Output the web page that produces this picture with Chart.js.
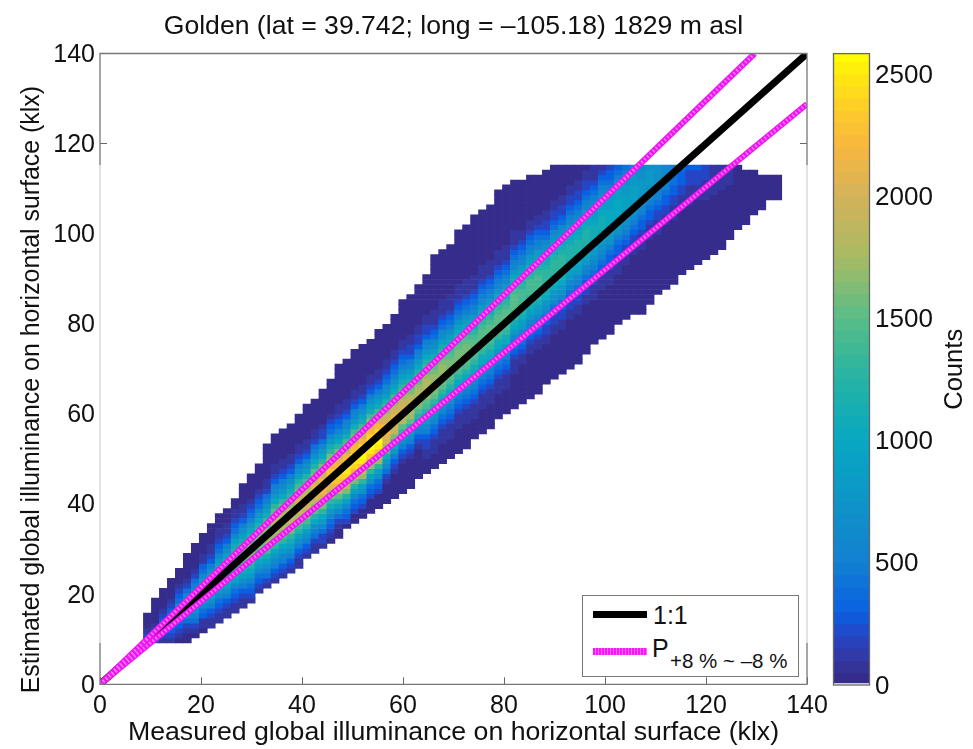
<!DOCTYPE html>
<html>
<head>
<meta charset="utf-8">
<title>Golden illuminance density</title>
<script src="https://cdn.jsdelivr.net/npm/chart.js@4"></script>
<style>
  html, body { margin: 0; background: #fff; }
  body { width: 973px; height: 749px; position: relative; overflow: hidden; font-family: "Liberation Sans", Arial, sans-serif; color: #111; }
  canvas { position: absolute; top: 0; }
  #main { left: 0; }
  #bar { left: 820px; }
  #legend { position: absolute; left: 582px; top: 595px; width: 215px; height: 80px; background: #fff; border: 1px solid #777; }
  #legend .swatch { position: absolute; left: 10px; width: 54px; height: 7px; }
  #legend .black { top: 15px; background: #000; }
  #legend .pink { top: 52px; background: repeating-linear-gradient(90deg, #ff10ff 0 2px, #ff70ff 2px 3px); }
  #legend .txt { position: absolute; font-size: 25px; line-height: 28px; white-space: nowrap; }
  #legend sub { position: absolute; left: 18px; top: 13px; font-size: 20.5px; vertical-align: baseline; }
</style>
</head>
<body>
<canvas id="main" width="904" height="749"></canvas>
<canvas id="bar" width="153" height="749"></canvas>
<div id="legend">
  <div class="swatch black"></div>
  <div class="txt" style="left:70px;top:5px">1:1</div>
  <div class="swatch pink"></div>
  <div class="txt" style="left:69px;top:38px">P<sub>+8&nbsp;%&nbsp;~&nbsp;–8&nbsp;%</sub></div>
</div>
<script>
const axisTicks = [0, 20, 40, 60, 80, 100, 120, 140];
const colorbarTicks = [0, 500, 1000, 1500, 2000, 2500];
const colorbarEdges = [8, 50, 100, 150, 200, 250, 300, 350, 400, 450, 500, 550, 600, 650, 700, 750, 800, 850, 900, 950, 1000, 1050, 1100, 1150, 1200, 1250, 1300, 1350, 1400, 1450, 1500, 1550, 1600, 1650, 1700, 1750, 1800, 1850, 1900, 1950, 2000, 2050, 2100, 2150, 2200, 2250, 2300, 2350, 2400, 2450, 2500, 2550, 2583];

const oneToOneX = [0, 140];
const oneToOneY = [0, 140];
const plusEightX = [0, 129.63];
const plusEightY = [0, 140];
const minusEightX = [0, 140];
const minusEightY = [0, 128.8];

// histogram bins in klx
const binLeft = 8.6;
const binWidth = 1.58;
const binBottom = 9.17;
const binHeight = 1.105;

// per column: first and last+1 filled row
const colLow = [0,0,0,0,0,0,1,2,3,4,5,6,7,8,10,11,12,13,14,15,17,18,19,20,21,23,24,25,26,27,28,29,30,31,33,34,35,36,37,38,39,41,42,43,45,46,47,48,49,50,52,53,54,55,56,58,60,61,62,64,65,66,66,68,70,71,72,74,75,76,77,78,79,81,83,84,86,87,89,89];
const colHigh = [6,9,11,13,15,18,20,22,24,26,27,29,32,34,36,40,42,43,44,46,48,49,51,53,56,57,59,60,61,63,64,66,69,70,72,74,78,79,80,83,84,86,87,88,91,92,93,93,94,94,95,96,96,96,96,96,96,96,96,96,96,96,96,96,96,96,96,96,96,96,96,96,96,96,96,95,95,94,94,94];
// row where the values in colCounts start; every other filled cell is edgeCount
const colFrom = [0,0,0,0,1,2,2,3,3,4,5,6,7,8,10,10,11,12,13,15,16,18,19,21,23,24,26,27,29,30,32,34,36,37,39,37,38,40,41,43,44,45,47,48,50,51,54,56,58,59,60,62,63,65,66,68,69,71,72,74,76,78,79,81,82,84,85,87,88,89,89,90,91,92,92,0,0,0,0,0];
const edgeCount = 30;
const colCounts = [
  [2,2,1],
  [2,3,2,1],
  [1,2,3,4,3,2,1],
  [1,2,3,4,5,4,3,2,1],
  [1,2,3,4,6,6,6,4,3,2,1],
  [1,2,4,6,7,8,7,6,4,2,1],
  [1,2,4,5,7,9,9,9,7,5,4,2,1],
  [1,1,3,4,6,8,10,10,10,8,6,4,3,1,1],
  [1,1,2,3,5,7,9,11,11,11,9,7,5,3,2,1,1],
  [1,1,2,3,4,6,8,10,12,12,12,10,8,6,4,3,2,1,1],
  [1,1,2,3,5,7,9,11,12,13,12,11,9,7,5,3,2,1,1],
  [1,1,2,3,4,6,9,11,12,14,14,14,12,11,9,6,4,3,2,1,1],
  [1,1,2,3,5,7,9,11,13,15,15,15,13,11,9,7,5,3,2,1,1],
  [1,2,3,4,6,8,10,12,14,16,16,16,14,12,10,8,6,4,3,2,1],
  [1,2,3,4,6,8,10,12,14,16,16,16,14,12,10,8,6,4,3,2,1],
  [1,1,2,4,5,7,9,11,14,15,17,17,17,15,14,11,9,7,5,4,2,1,1],
  [1,1,2,3,5,6,8,10,13,15,17,18,18,18,17,15,13,10,8,6,5,3,2,1,1],
  [1,1,2,3,5,6,8,10,13,15,17,18,18,18,17,15,13,10,8,6,5,3,2,1,1],
  [1,1,2,3,5,7,9,11,13,16,17,19,19,19,17,16,13,11,9,7,5,3,2,1,1],
  [1,1,2,3,5,7,9,12,14,16,18,20,20,20,18,16,14,12,9,7,5,3,2,1,1],
  [1,1,2,3,5,7,9,12,14,16,18,20,20,20,18,16,14,12,9,7,5,3,2,1,1],
  [1,1,2,4,5,7,10,12,15,17,19,21,21,21,19,17,15,12,10,7,5,4,2,1,1],
  [1,2,2,4,6,8,10,13,16,18,20,22,22,22,20,18,16,13,10,8,6,4,2,2,1],
  [1,2,3,4,6,8,11,13,16,19,21,23,23,23,21,19,16,13,11,8,6,4,3,2,1],
  [1,2,4,6,9,12,15,18,21,23,24,24,22,21,18,16,13,10,8,6,4,3,2,1,1],
  [2,3,4,6,9,12,16,19,22,24,25,25,23,22,19,16,14,11,8,6,5,3,2,1,1],
  [2,3,4,6,9,12,16,19,22,24,25,25,23,22,19,16,14,11,8,6,5,3,2,1,1],
  [2,3,4,7,9,13,17,20,23,25,26,25,24,22,20,17,14,11,9,7,5,3,2,1,1],
  [2,3,4,7,9,13,17,20,23,25,26,25,24,22,20,17,14,11,9,7,5,3,2,1,1],
  [2,3,4,7,9,13,17,20,23,25,26,25,24,22,20,17,14,11,9,7,5,3,2,1,1],
  [1,2,4,6,8,11,14,17,20,21,22,22,20,19,17,14,12,9,7,6,4,3,2,1,1],
  [1,2,3,5,8,10,13,16,19,20,21,21,20,18,16,14,11,9,7,5,4,3,2,1,1],
  [1,2,3,5,7,10,13,15,18,19,20,20,19,17,15,13,11,9,7,5,4,3,2,1,1],
  [1,2,3,5,7,9,12,15,17,18,19,19,18,16,14,12,10,8,6,5,3,2,2,1,1],
  [1,2,3,5,6,9,12,14,16,17,18,18,17,15,14,12,10,8,6,5,3,2,2,1,1],
  [1,1,2,2,3,5,6,8,10,12,14,15,17,18,18,18,17,15,14,12,10,8,6,5,3,2,2,1,1],
  [1,1,1,2,3,4,6,7,9,11,13,15,16,17,17,17,16,15,13,11,9,7,6,4,3,2,1,1,1],
  [1,1,1,2,3,4,6,7,9,11,13,15,16,17,17,17,16,15,13,11,9,7,6,4,3,2,1,1,1],
  [1,1,1,2,3,4,5,7,9,10,12,14,15,16,16,16,15,14,12,10,9,7,5,4,3,2,1,1,1],
  [1,1,1,2,3,4,5,7,9,10,12,14,15,16,16,16,15,14,12,10,9,7,5,4,3,2,1,1,1],
  [1,1,1,2,3,4,5,7,9,10,12,14,15,16,16,16,15,14,12,10,9,7,5,4,3,2,1,1,1],
  [1,1,1,2,3,4,5,6,8,10,11,13,14,15,15,15,14,13,11,10,8,6,5,4,3,2,1,1,1],
  [1,1,1,2,3,4,5,6,8,10,11,13,14,15,15,15,14,13,11,10,8,6,5,4,3,2,1,1,1],
  [1,1,1,2,3,4,5,6,8,10,11,13,14,15,15,15,14,13,11,10,8,6,5,4,3,2,1,1,1],
  [1,1,1,2,3,4,5,6,8,10,11,13,14,15,15,15,14,13,11,10,8,6,5,4,3,2,1,1,1],
  [1,1,1,2,3,4,5,6,8,10,11,13,14,15,15,15,14,13,11,10,8,6,5,4,3,2,1,1,1],
  [1,1,1,2,3,4,5,6,8,10,11,13,14,15,15,15,14,13,11,10,8,6,5,4,3,2,1,1,1],
  [1,1,2,3,4,5,6,8,9,11,12,13,14,14,14,13,12,11,9,8,6,5,4,3,2,1,1],
  [1,1,2,3,4,5,6,8,9,11,12,13,14,14,14,13,12,11,9,8,6,5,4,3,2,1,1],
  [1,1,2,3,4,5,6,8,9,11,12,13,14,14,14,13,12,11,9,8,6,5,4,3,2,1,1],
  [1,1,2,2,3,4,6,7,8,10,11,12,13,13,13,12,11,10,8,7,6,4,3,2,2,1,1],
  [1,1,2,2,3,4,6,7,8,10,11,12,13,13,13,12,11,10,8,7,6,4,3,2,2,1,1],
  [1,1,2,2,3,4,6,7,8,10,11,12,13,13,13,12,11,10,8,7,6,4,3,2,2,1,1],
  [1,1,2,2,3,4,5,6,8,9,10,11,12,12,12,11,10,9,8,6,5,4,3,2,2,1,1],
  [1,1,2,2,3,4,5,6,8,9,10,11,12,12,12,11,10,9,8,6,5,4,3,2,2,1,1],
  [1,1,2,2,3,4,5,6,8,9,10,11,12,12,12,11,10,9,8,6,5,4,3,2,2,1,1],
  [1,1,1,2,3,4,5,6,7,8,9,10,11,11,11,10,9,8,7,6,5,4,3,2,1,1,1],
  [1,1,1,2,3,4,5,6,7,8,9,10,11,11,11,10,9,8,7,6,5,4,3,2,1,1,1],
  [1,1,1,2,3,3,4,5,7,8,9,9,10,10,10,9,9,8,7,5,4,3,3,2,1,1,1],
  [1,1,1,2,3,3,4,5,7,8,9,9,10,10,10,9,9,8,7,5,4,3,3,2,1,1,1],
  [1,1,2,2,3,4,5,6,7,8,8,9,9,9,8,8,7,6,5,4,3,2,2,1,1],
  [1,1,2,2,3,4,5,6,7,8,8,9,9,9,8,8,7,6,5,4,3,2,2,1,1],
  [1,1,1,2,3,3,4,5,6,7,7,8,8,8,7,7,6,5,4,3,3,2,1,1,1],
  [1,1,1,2,3,3,4,5,6,7,7,8,8,8,7,7,6,5,4,3,3,2,1,1,1],
  [1,1,1,2,2,3,4,5,5,6,7,7,7,7,7,6,5,5,4,3,2,2,1,1,1],
  [1,1,2,2,3,3,4,5,5,6,6,6],
  [1,1,1,2,2,3,3,4,4,5,5],
  [1,1,1,2,2,3,3,3,4],
  [1,1,1,1,2,2,2,3],
  [1,1,1,2,2,2,3],
  [1,1,1,1,2,2,2],
  [1,1,1,1,1,1],
  [1,1,1,1,1],
  [1,1,1,1],
  [],[],[],[],[],[]
];

const colorStops = [
  [0, '#2e1b8a'], [30, '#352c8c'], [100, '#33379f'], [200, '#2545c5'], [300, '#0a60e2'],
  [500, '#1280d2'], [700, '#1090c8'], [1000, '#07a8c2'], [1250, '#25b3a4'], [1500, '#58bd88'],
  [1750, '#a8bb63'], [2000, '#d3b25a'], [2200, '#f8b63e'], [2350, '#fecb2a'], [2500, '#ffe910'], [2583, '#ffff00']
];

function hexRgb(h) {
  return [1, 3, 5].map((p) => parseInt(h.slice(p, p + 2), 16));
}

function colorFor(count) {
  for (let i = 1; i < colorStops.length; i++) {
    if (count <= colorStops[i][0]) {
      const [c0, h0] = colorStops[i - 1];
      const [c1, h1] = colorStops[i];
      const t = (count - c0) / (c1 - c0);
      const a = hexRgb(h0);
      const b = hexRgb(h1);
      return `rgb(${a.map((v, n) => Math.round(v + (b[n] - v) * t)).join(',')})`;
    }
  }
  return colorStops[colorStops.length - 1][1];
}

const cells = [];
colLow.forEach((low, col) => {
  for (let row = low; row < colHigh[col]; row++) {
    const listed = colCounts[col][row - colFrom[col]];
    const bottom = binBottom + row * binHeight;
    cells.push({
      x: binLeft + (col + 0.5) * binWidth,
      y: [bottom, bottom + binHeight],
      count: listed ? listed * 100 : edgeCount,
    });
  }
});

const xyPairs = (xs, ys) => xs.map((x, i) => ({ x, y: ys[i] }));

Chart.defaults.font.family = '"Liberation Sans", Arial, sans-serif';
Chart.defaults.color = '#111';
Chart.defaults.animation = false;

// box round the plot, paler on the sides next to the density image
const boxPlugin = {
  id: 'box',
  afterDatasetsDraw(chart) {
    const { ctx, chartArea: a, scales } = chart;
    const fadeTop = scales.y.getPixelForValue(115.2);
    const fadeBottom = scales.y.getPixelForValue(9.2);
    ctx.save();
    ctx.lineWidth = 1.3;
    ctx.strokeStyle = '#777';
    ctx.beginPath();
    ctx.moveTo(a.left, fadeTop);
    ctx.lineTo(a.left, a.top);
    ctx.lineTo(a.right, a.top);
    ctx.lineTo(a.right, fadeTop);
    ctx.moveTo(a.left, fadeBottom);
    ctx.lineTo(a.left, a.bottom);
    ctx.lineTo(a.right, a.bottom);
    ctx.lineTo(a.right, fadeBottom);
    ctx.stroke();
    ctx.strokeStyle = '#d4d4d4';
    ctx.beginPath();
    ctx.moveTo(a.left, fadeTop);
    ctx.lineTo(a.left, fadeBottom);
    ctx.moveTo(a.right, fadeTop);
    ctx.lineTo(a.right, fadeBottom);
    ctx.stroke();
    ctx.restore();
  },
};

const barBoxPlugin = {
  id: 'barBox',
  afterDatasetsDraw(chart) {
    const { ctx, chartArea: a } = chart;
    ctx.save();
    ctx.lineWidth = 1.3;
    ctx.strokeStyle = '#666';
    ctx.strokeRect(a.left, a.top, a.right - a.left, a.bottom - a.top);
    ctx.restore();
  },
};

const setTicks = (values) => (scale) => {
  scale.ticks = values.map((value) => ({ value }));
};
const plainLabel = (v) => String(v);
const sideTickColor = (ctx) => {
  const v = ctx.tick ? ctx.tick.value : 0;
  return v >= 20 && v <= 100 ? 'rgba(0,0,0,0)' : '#666';
};

new Chart(document.getElementById('main'), {
  type: 'bar',
  data: {
    datasets: [
      { type: 'line', data: xyPairs(plusEightX, plusEightY), borderColor: '#ff78ff', borderWidth: 3.5, borderDash: [1.5, 2.5], pointRadius: 0, order: 1 },
      { type: 'line', data: xyPairs(minusEightX, minusEightY), borderColor: '#ff78ff', borderWidth: 3.5, borderDash: [1.5, 2.5], pointRadius: 0, order: 1 },
      { type: 'line', data: xyPairs(plusEightX, plusEightY), borderColor: '#ee14f2', borderWidth: 6, pointRadius: 0, order: 2 },
      { type: 'line', data: xyPairs(minusEightX, minusEightY), borderColor: '#ee14f2', borderWidth: 6, pointRadius: 0, order: 2 },
      { type: 'line', data: xyPairs(oneToOneX, oneToOneY), borderColor: '#000', borderWidth: 7, pointRadius: 0, order: 3 },
      {
        type: 'bar',
        data: cells,
        backgroundColor: (ctx) => (ctx.raw ? colorFor(ctx.raw.count) : '#fff'),
        barPercentage: 1,
        categoryPercentage: 1,
        order: 4,
      },
    ],
  },
  options: {
    responsive: false,
    layout: { padding: { right: 97 } },
    plugins: {
      legend: { display: false },
      tooltip: { enabled: false },
      title: {
        display: true,
        fullSize: false,
        text: 'Golden (lat = 39.742; long = –105.18) 1829 m asl',
        font: { size: 26.6, weight: 'normal', lineHeight: 1.2 },
        color: '#111',
        padding: { top: 11, bottom: 10.6 },
      },
    },
    scales: {
      x: {
        type: 'linear',
        offset: false,
        min: 0,
        max: 140,
        afterBuildTicks: setTicks(axisTicks),
        afterFit(scale) { scale.height = 64.7; },
        border: { display: false },
        grid: { offset: false, drawOnChartArea: false, tickLength: -7, tickColor: '#666' },
        ticks: { font: { size: 25 }, padding: 14, maxRotation: 0, autoSkip: false, color: '#111', callback: plainLabel },
        title: { display: true, text: 'Measured global illuminance on horizontal surface (klx)', font: { size: 26.7 }, color: '#111', padding: { top: 0, bottom: 0 } },
      },
      y: {
        min: 0,
        max: 140,
        afterBuildTicks: setTicks(axisTicks),
        afterFit(scale) { scale.width = 100; },
        border: { display: false },
        grid: { drawOnChartArea: false, tickLength: -7, tickColor: sideTickColor },
        ticks: { font: { size: 25 }, padding: 12, labelOffset: 1.5, autoSkip: false, color: '#111', callback: plainLabel },
        title: { display: true, text: 'Estimated global illuminance on horizontal surface (klx)' + ' '.repeat(6), font: { size: 24.9 }, color: '#111', padding: { top: 17, bottom: 0 } },
      },
      yRight: {
        position: 'right',
        min: 0,
        max: 140,
        afterBuildTicks: setTicks(axisTicks),
        afterFit(scale) { scale.width = 0; },
        border: { display: false },
        grid: { drawOnChartArea: false, tickLength: -7, tickColor: sideTickColor },
        ticks: { display: false },
      },
    },
  },
  plugins: [boxPlugin],
});

const bandLabel = 'Counts';
const bands = colorbarEdges.slice(1).map((top, i) => ({
  x: bandLabel,
  y: [colorbarEdges[i], top],
  count: (colorbarEdges[i] + top) / 2,
}));
const colorbarTickColor = (ctx) => (ctx.tick && ctx.tick.value === 0 ? 'rgba(0,0,0,0)' : '#333');

new Chart(document.getElementById('bar'), {
  type: 'bar',
  data: {
    labels: [bandLabel],
    datasets: [{
      data: bands,
      backgroundColor: (ctx) => (ctx.raw ? colorFor(ctx.raw.count) : '#fff'),
      barPercentage: 1,
      categoryPercentage: 1,
    }],
  },
  options: {
    responsive: false,
    layout: { padding: { left: 13.5, top: 53.6, bottom: 64 } },
    plugins: { legend: { display: false }, tooltip: { enabled: false } },
    scales: {
      x: { display: false },
      y: {
        position: 'right',
        min: 0,
        max: 2583,
        afterBuildTicks: setTicks(colorbarTicks),
        afterFit(scale) { scale.width = 103.5; },
        border: { display: false },
        grid: { drawOnChartArea: false, tickLength: -7, tickColor: colorbarTickColor },
        ticks: { font: { size: 26 }, padding: 12.5, labelOffset: 1.5, autoSkip: false, color: '#111', callback: plainLabel },
      },
      yLeft: {
        position: 'left',
        min: 0,
        max: 2583,
        afterBuildTicks: setTicks(colorbarTicks),
        afterFit(scale) { scale.width = 0; },
        border: { display: false },
        grid: { drawOnChartArea: false, tickLength: -7, tickColor: colorbarTickColor },
        ticks: { display: false },
        title: { display: true, text: 'Counts', font: { size: 25.6 }, color: '#111', padding: { top: 106 } },
      },
    },
  },
  plugins: [barBoxPlugin],
});
</script>
</body>
</html>
